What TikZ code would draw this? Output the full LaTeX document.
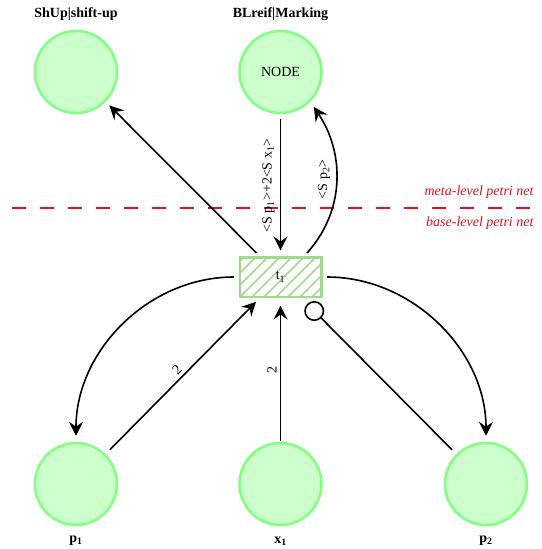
\documentclass[tikz,border=0pt]{standalone}
\usepackage{fontspec}
\setmainfont{Liberation Serif}
\usetikzlibrary{arrows.meta,patterns.meta}
\definecolor{placefill}{HTML}{CCFFCC}
\definecolor{placeline}{HTML}{80FF80}
\definecolor{transline}{HTML}{A0DA90}
\definecolor{levelred}{HTML}{E0101E}

\begin{document}
\begin{tikzpicture}[x=1pt,y=1pt,
  every node/.style={font=\fontsize{14}{16}\selectfont},
  place/.style={circle, draw=placeline, fill=placefill, line width=2.5pt,
    minimum size=82pt, inner sep=0pt},
  transition/.style={rectangle, draw=transline, line width=2.5pt,
    minimum width=81.5pt, minimum height=39.5pt, inner sep=0pt,
    pattern={Lines[angle=45,distance=8.5pt,line width=1.6pt]},
    pattern color=transline},
  arc/.style={line width=1.6pt, -{Stealth[length=14pt,width=14pt,inset=5pt]}},
  inhib/.style={line width=1.6pt, -{Circle[open,length=20pt]}},
  lvl/.style={text=levelred, font=\fontsize{14}{16}\selectfont\itshape, anchor=east},
  caption/.style={font=\fontsize{14}{16}\selectfont\bfseries}]

\useasboundingbox (0,0) rectangle (541,-549);

% places and the transition
\node[place] (shup) at (76,-72) {};
\node[place] (mark) at (280.5,-72) {NODE};
\node[place] (p1) at (76,-484) {};
\node[place] (x1) at (280.5,-484) {};
\node[place] (p2) at (486,-484) {};
\node[transition] (t1) at (280.5,-277) {t\textsubscript{1}};

% place captions
\node[caption] (shupl) at (76,-14) {ShUp|shift-up};
\node[caption] (markl) at (280.5,-14) {BLreif|Marking};
\node[caption] (p1l) at (76,-541) {p\textsubscript{1}};
\node[caption] (x1l) at (280.5,-541) {x\textsubscript{1}};
\node[caption] (p2l) at (486,-541) {p\textsubscript{2}};

% level separator
\coordinate (lvlL) at (12,-208);
\coordinate (lvlR) at (541,-208);
\draw[levelred, line width=1.8pt, dash pattern=on 14pt off 14pt] (lvlL) -- (lvlR);
\node[lvl] (meta) at (537,-192) {meta-level petri net};
\node[lvl] (base) at (537,-223) {base-level petri net};

% meta-level arcs
\draw[arc, shorten <=5pt, shorten >=5pt] (t1) -- (shup);
\draw[arc, shorten <=5pt, shorten >=6pt] (mark) -- (t1)
  node[midway, rotate=90, anchor=south, inner sep=5pt]
  {<S p\textsubscript{1}>+2<S x\textsubscript{1}>};
\draw[arc, shorten >=6pt] ([xshift=-15pt,yshift=3.5pt]t1.north east)
  to[out=48,in=-56]
  node[midway, rotate=90, anchor=south, inner sep=5pt] {<S p\textsubscript{2}>}
  (mark.-45);

% base-level arcs
\draw[arc, shorten <=5pt, shorten >=6pt] (t1.west) to[out=180,in=90] (p1.north);
\draw[arc, shorten <=5pt, shorten >=6pt] (t1.east) to[out=0,in=90] (p2.north);
\draw[arc, shorten <=6pt, shorten >=6pt] (p1) -- (t1)
  node[midway, sloped, above, inner sep=3pt] {2};
\draw[arc, shorten <=1pt, shorten >=8pt] (x1) -- (t1)
  node[midway, sloped, above, inner sep=3pt] {2};
\draw[inhib, shorten <=6pt, shorten >=9pt] (p2) -- (t1);

\end{tikzpicture}
\end{document}
